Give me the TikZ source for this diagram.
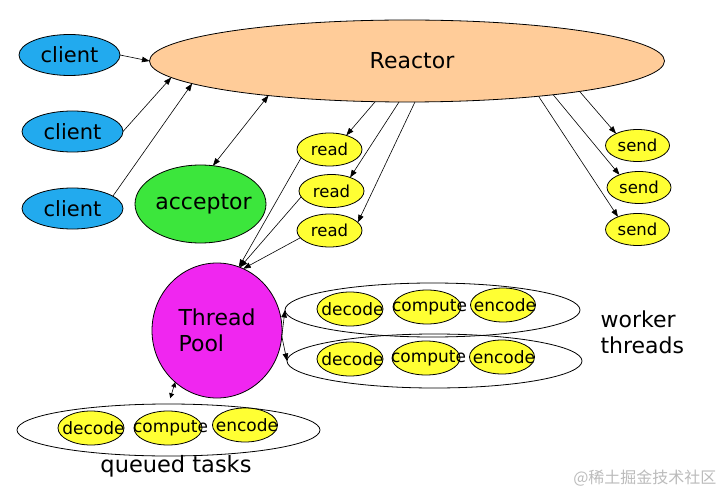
\documentclass[tikz,border=0pt]{standalone}
\usepackage{fontspec}
\setmainfont{DejaVu Sans}
\newfontfamily\cjkfont{Noto Sans CJK SC}
\usetikzlibrary{shapes.geometric,arrows.meta}
\definecolor{clientblue}{HTML}{22AAEE}
\definecolor{peach}{HTML}{FFCC99}
\definecolor{accgreen}{HTML}{3CE63C}
\definecolor{poolmag}{HTML}{F026F0}
\definecolor{yel}{HTML}{FFFF33}
\definecolor{wmgray}{HTML}{BBBBBB}
\begin{document}
\begin{tikzpicture}[x=1pt,y=-1pt,
  base/.style={ellipse,draw=black,line width=0.8pt,inner sep=0pt,outer sep=0pt},
  client/.style={base,fill=clientblue,minimum width=101pt,minimum height=41pt,font=\fontsize{21}{24}\selectfont},
  small/.style={base,fill=yel,minimum width=65pt,minimum height=33pt,font=\fontsize{16.5}{19}\selectfont},
  task/.style={base,fill=yel,minimum width=66pt,minimum height=34pt,font=\fontsize{17}{20}\selectfont},
  group/.style={base,minimum width=295pt,minimum height=54pt},
  big/.style={font=\fontsize{22}{26}\selectfont},
  arr/.style={-{Triangle[length=7.5pt,width=5.5pt]},line width=0.6pt},
  darr/.style={{Triangle[length=7.5pt,width=5.5pt]}-{Triangle[length=7.5pt,width=5.5pt]},line width=0.6pt},
  sdarr/.style={{Triangle[length=5pt,width=5pt]}-{Triangle[length=5pt,width=5pt]},line width=0.6pt}]
\useasboundingbox (0,0) rectangle (727,494);

% clients
\node[client] (c1) at (69.5,55) {\makebox[0pt]{client}};
\node[client] (c2) at (72.5,131.5) {\makebox[0pt]{client}};
\node[client] (c3) at (72.5,208.5) {\makebox[0pt]{client}};

% reactor
\node[base,fill=peach,minimum width=515pt,minimum height=82pt,big] (R) at (407,61) {\makebox[0pt]{\hspace*{10pt}Reactor}};

% acceptor
\node[base,fill=accgreen,minimum width=131pt,minimum height=78pt,big] (A) at (200.5,204) {\makebox[0pt]{\raisebox{-3pt}{\hspace*{6pt}acceptor}}};

% read
\node[small] (r1) at (329.5,149.5) {\makebox[0pt]{read}};
\node[small] (r2) at (331.5,191) {\makebox[0pt]{read}};
\node[small] (r3) at (329.5,230.5) {\makebox[0pt]{read}};

% send
\node[small,minimum width=64pt,minimum height=32pt] (s1) at (637.5,145.5) {\makebox[0pt]{send}};
\node[small,minimum width=64pt,minimum height=32pt] (s2) at (639,187.5) {\makebox[0pt]{send}};
\node[small,minimum width=64pt,minimum height=32pt] (s3) at (637.5,229.5) {\makebox[0pt]{send}};

% thread pool
\node[base,fill=poolmag,minimum width=130pt,minimum height=135pt,big,align=left] (TP) at (217,330.5) {\rule{0pt}{6pt}Thread\\Pool};

% worker groups
\node[group] (w1) at (432.5,310) {};
\node[group] (w2) at (434.5,361) {};
\node[task] (w1d) at (350,309) {\makebox[0pt]{\hspace*{5pt}decode}};
\node[task,minimum width=68pt] (w1c) at (427,307) {\makebox[0pt]{\hspace*{5pt}compute}};
\node[task,minimum width=65pt] (w1e) at (503,305) {\makebox[0pt]{\hspace*{4pt}encode}};
\node[task] (w2d) at (350,359) {\makebox[0pt]{\hspace*{5pt}decode}};
\node[task,minimum width=68pt] (w2c) at (426,358) {\makebox[0pt]{\hspace*{5pt}compute}};
\node[task,minimum width=65pt] (w2e) at (502,357) {\makebox[0pt]{\hspace*{4pt}encode}};
\node[big,anchor=west,align=left] (wt) at (597,332.5) {worker\\threads};

% queued
\node[group,minimum width=303pt,minimum height=52pt] (q) at (168.5,430) {};
\node[task] (qd) at (91,428) {\makebox[0pt]{\hspace*{5pt}decode}};
\node[task,minimum width=68pt] (qc) at (168,428) {\makebox[0pt]{\hspace*{5pt}compute}};
\node[task,minimum width=65pt] (qe) at (245,425) {\makebox[0pt]{\hspace*{4pt}encode}};
\node[font=\fontsize{22.5}{26}\selectfont] (qt) at (176,466) {queued tasks};

% watermark
\node[anchor=east,text=wmgray,font=\cjkfont\fontsize{16}{18}\selectfont] (wm) at (720,478) {@稀土掘金技术社区};

% connectors
\draw[arr] (c1.east) -- (R.west);
\draw[arr] (c2.east) -- (R.184);
\draw[arr] (c3.17) -- (R.186.5);
\draw[darr] (A.72) -- (R.194.5);
\draw[arr] (R.232) -- (r1.40);
\draw[arr] (R.259) -- (r2.36);
\draw[arr] (R.281) -- (r3.16);
\draw[arr] (R.350.7) -- (s1.151);
\draw[arr] (R.347.6) -- (s2.147);
\draw[arr] (R.345.8) -- (s3.147);
\draw[arr] (r1.196) -- (TP.71);
\draw[arr] (r2.191) -- (TP.70);
\draw[arr] (r3.194) -- (TP.67);
\draw[arr] (TP.-6) -- (w1.west);
\draw[arr] (TP.-5) -- (w2.west);
\draw[sdarr,shorten >=6pt] (TP.231) -- (q.north);
\end{tikzpicture}
\end{document}
